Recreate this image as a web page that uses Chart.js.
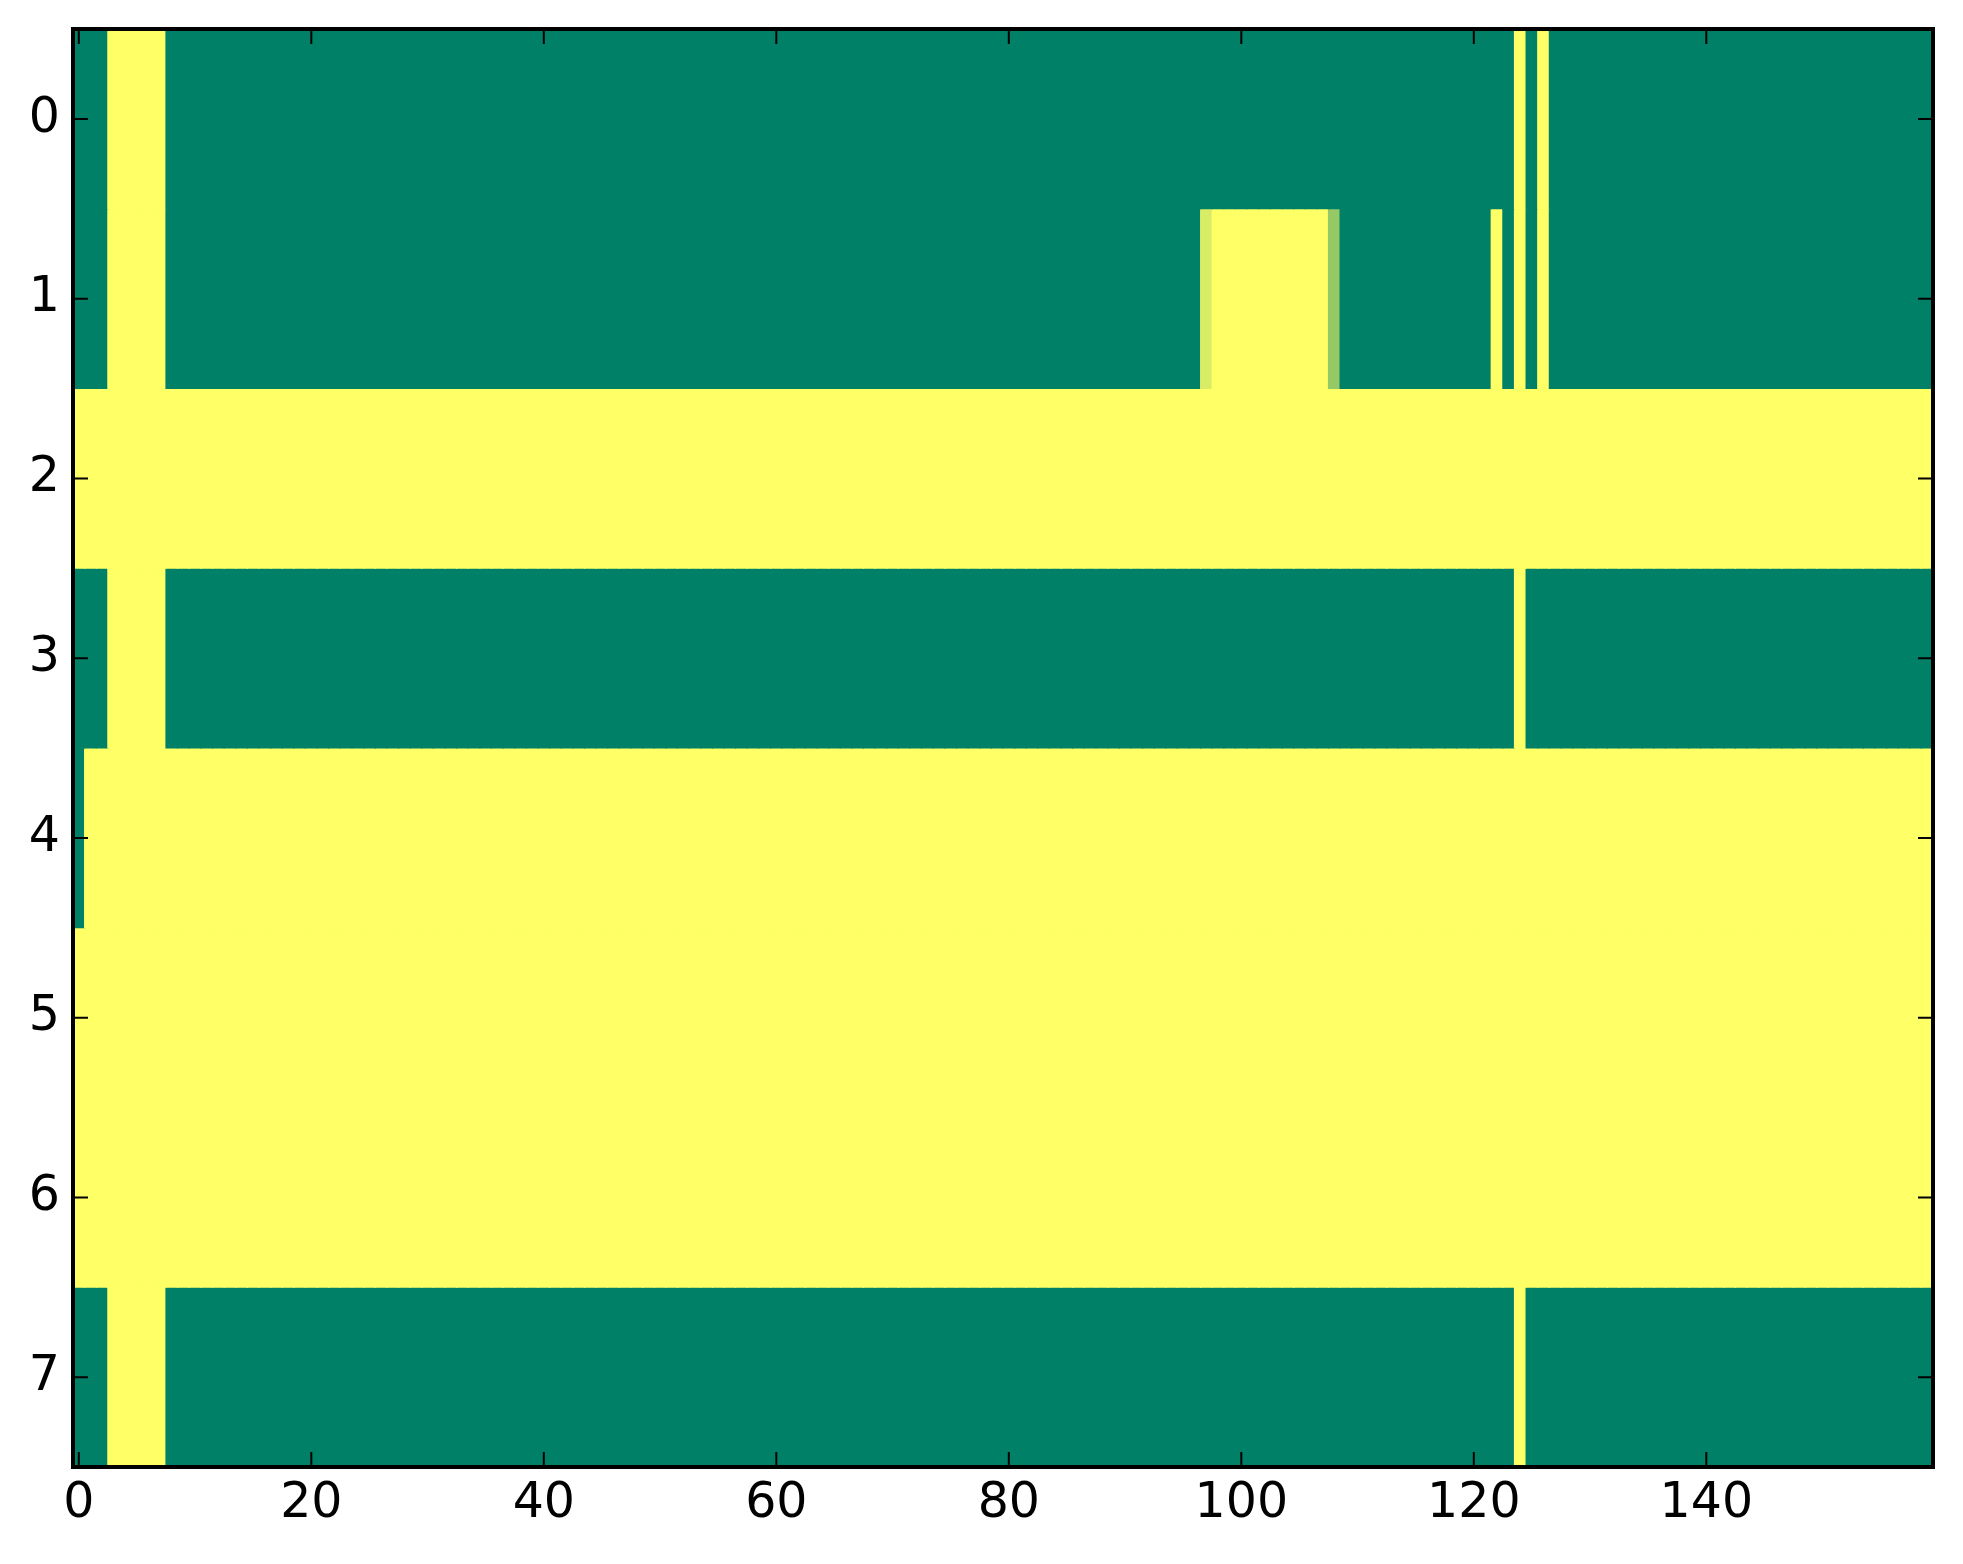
<!DOCTYPE html>
<html>
<head>
<meta charset="utf-8">
<script src="https://cdn.jsdelivr.net/npm/chart.js@4.4.1/dist/chart.umd.min.js"></script>
<style>
  html, body { margin: 0; padding: 0; background: #fff; }
  #wrap { width: 1963px; height: 1564px; }
</style>
</head>
<body>
<div id="wrap"><canvas id="heat" width="1963" height="1564"></canvas></div>
<script>
// ── Tick labels ───────────────────────────────────────────────────────────────
const X_TICKS = [0, 20, 40, 60, 80, 100, 120, 140];
const Y_TICKS = [0, 1, 2, 3, 4, 5, 6, 7];

// ── Cell values, one array per row (160 columns, 0 = green, 1 = yellow) ───────
const ROW_0 = [
  0,0,0,1,1,1,1,1,0,0,0,0,0,0,0,0,0,0,0,0,
  0,0,0,0,0,0,0,0,0,0,0,0,0,0,0,0,0,0,0,0,
  0,0,0,0,0,0,0,0,0,0,0,0,0,0,0,0,0,0,0,0,
  0,0,0,0,0,0,0,0,0,0,0,0,0,0,0,0,0,0,0,0,
  0,0,0,0,0,0,0,0,0,0,0,0,0,0,0,0,0,0,0,0,
  0,0,0,0,0,0,0,0,0,0,0,0,0,0,0,0,0,0,0,0,
  0,0,0,0,1,0,1,0,0,0,0,0,0,0,0,0,0,0,0,0,
  0,0,0,0,0,0,0,0,0,0,0,0,0,0,0,0,0,0,0,0,
];
const ROW_1 = [
  0,0,0,1,1,1,1,1,0,0,0,0,0,0,0,0,0,0,0,0,
  0,0,0,0,0,0,0,0,0,0,0,0,0,0,0,0,0,0,0,0,
  0,0,0,0,0,0,0,0,0,0,0,0,0,0,0,0,0,0,0,0,
  0,0,0,0,0,0,0,0,0,0,0,0,0,0,0,0,0,0,0,0,
  0,0,0,0,0,0,0,0,0,0,0,0,0,0,0,0,0,0.85,1,1,
  1,1,1,1,1,1,1,1,0.58,0,0,0,0,0,0,0,0,0,0,0,
  0,0,1,0,1,0,1,0,0,0,0,0,0,0,0,0,0,0,0,0,
  0,0,0,0,0,0,0,0,0,0,0,0,0,0,0,0,0,0,0,0,
];
const ROW_2 = [
  1,1,1,1,1,1,1,1,1,1,1,1,1,1,1,1,1,1,1,1,
  1,1,1,1,1,1,1,1,1,1,1,1,1,1,1,1,1,1,1,1,
  1,1,1,1,1,1,1,1,1,1,1,1,1,1,1,1,1,1,1,1,
  1,1,1,1,1,1,1,1,1,1,1,1,1,1,1,1,1,1,1,1,
  1,1,1,1,1,1,1,1,1,1,1,1,1,1,1,1,1,1,1,1,
  1,1,1,1,1,1,1,1,1,1,1,1,1,1,1,1,1,1,1,1,
  1,1,1,1,1,1,1,1,1,1,1,1,1,1,1,1,1,1,1,1,
  1,1,1,1,1,1,1,1,1,1,1,1,1,1,1,1,1,1,1,1,
];
const ROW_3 = [
  0,0,0,1,1,1,1,1,0,0,0,0,0,0,0,0,0,0,0,0,
  0,0,0,0,0,0,0,0,0,0,0,0,0,0,0,0,0,0,0,0,
  0,0,0,0,0,0,0,0,0,0,0,0,0,0,0,0,0,0,0,0,
  0,0,0,0,0,0,0,0,0,0,0,0,0,0,0,0,0,0,0,0,
  0,0,0,0,0,0,0,0,0,0,0,0,0,0,0,0,0,0,0,0,
  0,0,0,0,0,0,0,0,0,0,0,0,0,0,0,0,0,0,0,0,
  0,0,0,0,1,0,0,0,0,0,0,0,0,0,0,0,0,0,0,0,
  0,0,0,0,0,0,0,0,0,0,0,0,0,0,0,0,0,0,0,0,
];
const ROW_4 = [
  0,1,1,1,1,1,1,1,1,1,1,1,1,1,1,1,1,1,1,1,
  1,1,1,1,1,1,1,1,1,1,1,1,1,1,1,1,1,1,1,1,
  1,1,1,1,1,1,1,1,1,1,1,1,1,1,1,1,1,1,1,1,
  1,1,1,1,1,1,1,1,1,1,1,1,1,1,1,1,1,1,1,1,
  1,1,1,1,1,1,1,1,1,1,1,1,1,1,1,1,1,1,1,1,
  1,1,1,1,1,1,1,1,1,1,1,1,1,1,1,1,1,1,1,1,
  1,1,1,1,1,1,1,1,1,1,1,1,1,1,1,1,1,1,1,1,
  1,1,1,1,1,1,1,1,1,1,1,1,1,1,1,1,1,1,1,1,
];
const ROW_5 = [
  1,1,1,1,1,1,1,1,1,1,1,1,1,1,1,1,1,1,1,1,
  1,1,1,1,1,1,1,1,1,1,1,1,1,1,1,1,1,1,1,1,
  1,1,1,1,1,1,1,1,1,1,1,1,1,1,1,1,1,1,1,1,
  1,1,1,1,1,1,1,1,1,1,1,1,1,1,1,1,1,1,1,1,
  1,1,1,1,1,1,1,1,1,1,1,1,1,1,1,1,1,1,1,1,
  1,1,1,1,1,1,1,1,1,1,1,1,1,1,1,1,1,1,1,1,
  1,1,1,1,1,1,1,1,1,1,1,1,1,1,1,1,1,1,1,1,
  1,1,1,1,1,1,1,1,1,1,1,1,1,1,1,1,1,1,1,1,
];
const ROW_6 = [
  1,1,1,1,1,1,1,1,1,1,1,1,1,1,1,1,1,1,1,1,
  1,1,1,1,1,1,1,1,1,1,1,1,1,1,1,1,1,1,1,1,
  1,1,1,1,1,1,1,1,1,1,1,1,1,1,1,1,1,1,1,1,
  1,1,1,1,1,1,1,1,1,1,1,1,1,1,1,1,1,1,1,1,
  1,1,1,1,1,1,1,1,1,1,1,1,1,1,1,1,1,1,1,1,
  1,1,1,1,1,1,1,1,1,1,1,1,1,1,1,1,1,1,1,1,
  1,1,1,1,1,1,1,1,1,1,1,1,1,1,1,1,1,1,1,1,
  1,1,1,1,1,1,1,1,1,1,1,1,1,1,1,1,1,1,1,1,
];
const ROW_7 = [
  0,0,0,1,1,1,1,1,0,0,0,0,0,0,0,0,0,0,0,0,
  0,0,0,0,0,0,0,0,0,0,0,0,0,0,0,0,0,0,0,0,
  0,0,0,0,0,0,0,0,0,0,0,0,0,0,0,0,0,0,0,0,
  0,0,0,0,0,0,0,0,0,0,0,0,0,0,0,0,0,0,0,0,
  0,0,0,0,0,0,0,0,0,0,0,0,0,0,0,0,0,0,0,0,
  0,0,0,0,0,0,0,0,0,0,0,0,0,0,0,0,0,0,0,0,
  0,0,0,0,1,0,0,0,0,0,0,0,0,0,0,0,0,0,0,0,
  0,0,0,0,0,0,0,0,0,0,0,0,0,0,0,0,0,0,0,0,
];
const ROWS = [ROW_0, ROW_1, ROW_2, ROW_3, ROW_4, ROW_5, ROW_6, ROW_7];

// matplotlib "summer": r = v, g = 0.5 + 0.5v, b = 0.4
function summer(v) {
  const r = Math.round(255 * v);
  const g = Math.round(255 * (0.5 + 0.5 * v));
  return `rgb(${r},${g},102)`;
}

const FONT = { family: 'DejaVu Sans', size: 49 };

// frame + inward ticks on all four sides (classic matplotlib look)
const frameTicks = {
  id: 'frameTicks',
  afterDatasetsDraw(chart) {
    const { ctx, chartArea: { left, right, top, bottom }, scales: { x, y } } = chart;
    ctx.save();
    ctx.strokeStyle = '#000';
    ctx.lineWidth = 2;
    ctx.beginPath();
    X_TICKS.forEach(v => {
      const px = x.getPixelForValue(v);
      ctx.moveTo(px, bottom); ctx.lineTo(px, bottom - 15);
      ctx.moveTo(px, top);    ctx.lineTo(px, top + 15);
    });
    Y_TICKS.forEach(v => {
      const py = y.getPixelForValue(v);
      ctx.moveTo(left, py);  ctx.lineTo(left + 15, py);
      ctx.moveTo(right, py); ctx.lineTo(right - 15, py);
    });
    ctx.stroke();
    ctx.lineWidth = 4;
    ctx.strokeRect(left, top, right - left, bottom - top);
    ctx.restore();
  },
};

const datasets = ROWS.map((row, r) => ({
  label: 'row ' + r,
  data: row.map((v, c) => ({ x: c, y: [r - 0.5, r + 0.5], v })),
  backgroundColor: ctx => (ctx.raw ? summer(ctx.raw.v) : summer(0)),
  borderWidth: 0,
  inflateAmount: 0.6,
  grouped: false,
  barPercentage: 1,
  categoryPercentage: 1,
}));

new Chart(document.getElementById('heat'), {
  type: 'bar',
  data: { datasets },
  options: {
    responsive: false,
    animation: false,
    devicePixelRatio: 1,
    layout: { padding: { top: 29, right: 30, left: 0, bottom: 0 } },
    plugins: { legend: { display: false }, tooltip: { enabled: false } },
    scales: {
      x: {
        type: 'linear', min: -0.5, max: 159.5, offset: false,
        grid: { display: false, drawTicks: false },
        border: { display: false },
        afterBuildTicks: s => { s.ticks = X_TICKS.map(v => ({ value: v })); },
        afterFit: s => { s.height = 97; s.paddingLeft = 0; s.paddingRight = 0; },
        ticks: { font: FONT, color: '#000', padding: 8, maxRotation: 0, autoSkip: false, callback: v => String(v) },
      },
      y: {
        type: 'linear', reverse: true, min: -0.5, max: 7.5, offset: false,
        grid: { display: false, drawTicks: false },
        border: { display: false },
        afterBuildTicks: s => { s.ticks = Y_TICKS.map(v => ({ value: v })); },
        afterFit: s => { s.width = 73; s.paddingTop = 0; s.paddingBottom = 0; },
        ticks: { font: FONT, color: '#000', padding: 13, autoSkip: false, callback: v => String(v) },
      },
    },
  },
  plugins: [frameTicks],
});
</script>
</body>
</html>
